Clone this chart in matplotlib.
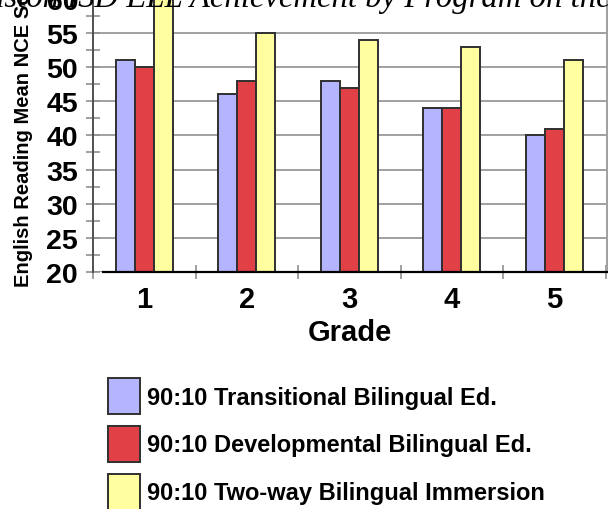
import numpy as np
import matplotlib
matplotlib.use('Agg')
import matplotlib.pyplot as plt
from matplotlib.ticker import MultipleLocator, FixedLocator

grades = ['1', '2', '3', '4', '5']
transitional = [51, 46, 48, 44, 40]
developmental = [50, 48, 47, 44, 41]
two_way = [62, 55, 54, 53, 51]
labels = ['90:10 Transitional Bilingual Ed.',
          '90:10 Developmental Bilingual Ed.',
          '90:10 Two-way Bilingual Immersion']
colors = ['#b4b4ff', '#e04046', '#ffffa0']

plt.rcParams['font.family'] = ['Liberation Sans', 'DejaVu Sans']

fig = plt.figure(figsize=(6.08, 5.10), dpi=100)
ax = fig.add_axes([93 / 608, 1 - 273 / 510, 514 / 608, 307.35 / 510])

x = np.arange(len(grades))
w = 0.185
series = [transitional, developmental, two_way]
bars = []
for i, vals in enumerate(series):
    b = ax.bar(x + (i - 1) * w, np.array(vals) - 20, w, bottom=20,
               color=colors[i], edgecolor='#303030', linewidth=1.4,
               label=labels[i], zorder=3)
    bars.append(b)

ax.set_xlim(-0.5, -0.5 + 514 / 102.5)
ax.set_ylim(20, 65)

ax.yaxis.set_major_locator(MultipleLocator(5))
ax.yaxis.set_minor_locator(MultipleLocator(2.5))
ax.grid(axis='y', which='major', color='#a0a0a0', linewidth=1.4, zorder=0)
ax.tick_params(axis='y', which='both', direction='inout', length=9.5,
               width=1.2, color='#909090', labelsize=20.5, pad=6)
for t in ax.get_yticklabels():
    t.set_fontweight('bold')

ax.set_xticks(x)
ax.set_xticklabels(grades, fontsize=21, fontweight='bold')
ax.xaxis.set_minor_locator(FixedLocator(np.arange(-0.5, 5, 1.0)))
ax.tick_params(axis='x', which='major', length=0, pad=9)
ax.tick_params(axis='x', which='minor', direction='inout', length=10,
               width=1.2, color='#909090')

ax.spines['top'].set_visible(False)
ax.spines['left'].set_color('#505050')
ax.spines['left'].set_linewidth(1.4)
ax.spines['right'].set_color('#a0a0a0')
ax.spines['right'].set_linewidth(1.4)
ax.spines['bottom'].set_color('black')
ax.spines['bottom'].set_linewidth(1.6)
ax.spines['bottom'].set_bounds(-0.4, -0.5 + 514 / 102.5)
ax.spines['bottom'].set_zorder(4)

ax.set_xlabel('Grade', fontsize=21, fontweight='bold', labelpad=4)
ax.set_ylabel('English Reading Mean NCE Scores', fontsize=14.5,
              fontweight='bold')
ax.yaxis.set_label_coords((33 - 93) / 514, 0.5)

fig.text(-0.085, 1 - 7 / 510, 'Houston ISD ELL Achievement by Program on the Stanford 9',
         family='Liberation Serif', style='italic', fontsize=23.6,
         va='baseline', ha='left')

fig.legend(handles=bars, labels=labels, loc='upper left',
           bbox_to_anchor=(108 / 608, 1 - 379 / 510), frameon=False,
           borderpad=0, prop={'weight': 'bold', 'size': 17},
           handlelength=1.36, handleheight=1.97, labelspacing=0.5,
           handletextpad=0.3, borderaxespad=0)

fig.savefig('out.png', dpi=100)
